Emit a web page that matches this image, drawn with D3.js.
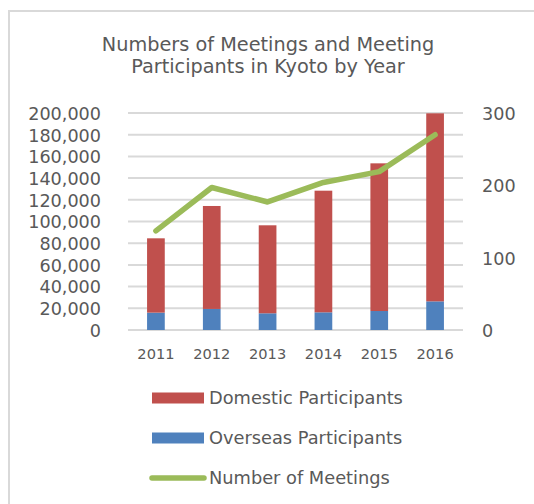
<!DOCTYPE html>
<html>
<head>
<meta charset="utf-8">
<script src="https://cdn.jsdelivr.net/npm/d3@7"></script>
<style>
  html, body { margin: 0; padding: 0; background: #fff; }
  svg { display: block; }
  text { font-family: "DejaVu Sans", Verdana, sans-serif; fill: #595959; }
</style>
</head>
<body>
<svg id="chart" width="534" height="504"></svg>
<script>
const years = ["2011", "2012", "2013", "2014", "2015", "2016"];
const overseas = [16000, 19400, 15400, 16300, 17500, 26400];
const domestic = [68500, 94900, 81100, 112100, 136100, 173300];
const meetings = [137, 197, 177, 204, 219, 270];
const leftTicks = [0, 20000, 40000, 60000, 80000, 100000, 120000, 140000, 160000, 180000, 200000];
const rightTicks = [0, 100, 200, 300];
const titleLines = ["Numbers of Meetings and Meeting", "Participants in Kyoto by Year"];
const legendItems = [
  { label: "Domestic Participants", color: "#C0504D", type: "bar" },
  { label: "Overseas Participants", color: "#4F81BD", type: "bar" },
  { label: "Number of Meetings", color: "#9BBB59", type: "line" }
];

const svg = d3.select("#chart");

// outer frame
svg.append("rect").attr("x", 9).attr("y", 11).attr("width", 620).attr("height", 620)
  .attr("fill", "none").attr("stroke", "#d9d9d9").attr("stroke-width", 2);

// title
svg.append("g").selectAll("text").data(titleLines).join("text")
  .attr("x", 268).attr("y", (d, i) => 51 + i * 22)
  .attr("text-anchor", "middle").attr("font-size", 19.3).text(d => d);

const plot = { left: 128, right: 463, top: 113, bottom: 330 };
const x = d3.scaleBand().domain(years).range([plot.left, plot.right]).padding(0);
const yL = d3.scaleLinear().domain([0, 200000]).range([plot.bottom, plot.top]);
const yR = d3.scaleLinear().domain([0, 300]).range([plot.bottom, plot.top]);

// gridlines
svg.append("g").selectAll("line").data(leftTicks).join("line")
  .attr("x1", plot.left).attr("x2", plot.right)
  .attr("y1", d => yL(d)).attr("y2", d => yL(d))
  .attr("stroke", "#d9d9d9").attr("stroke-width", 2);

// left axis
const axL = svg.append("g").attr("transform", `translate(${plot.left - 27},0)`)
  .call(d3.axisLeft(yL).tickValues(leftTicks).tickFormat(d3.format(",")).tickSize(0).tickPadding(0));
axL.select(".domain").remove();
axL.selectAll("text").attr("font-size", 17.6).attr("font-family", "DejaVu Sans").attr("fill", "#595959").attr("dy", "0.36em");

// right axis
const axR = svg.append("g").attr("transform", `translate(${plot.right + 19},0)`)
  .call(d3.axisRight(yR).tickValues(rightTicks).tickSize(0).tickPadding(0));
axR.select(".domain").remove();
axR.selectAll("text").attr("font-size", 17.6).attr("font-family", "DejaVu Sans").attr("fill", "#595959").attr("dy", "0.36em");

// x axis
const axX = svg.append("g").attr("transform", `translate(0,${plot.bottom})`)
  .call(d3.axisBottom(x).tickSize(0).tickPadding(0));
axX.select(".domain").remove();
axX.selectAll("text").attr("font-size", 14.6).attr("font-family", "DejaVu Sans").attr("fill", "#595959").attr("y", 29).attr("dy", 0);

// stacked bars
const barW = x.bandwidth() * 0.317;
const rows = years.map((yr, i) => ({ yr, overseas: overseas[i], domestic: domestic[i] }));
const stack = d3.stack().keys(["overseas", "domestic"])(rows);
const colors = { overseas: "#4F81BD", domestic: "#C0504D" };
svg.append("g").selectAll("g").data(stack).join("g")
  .attr("fill", d => colors[d.key])
  .selectAll("rect").data(d => d).join("rect")
  .attr("x", d => x(d.data.yr) + (x.bandwidth() - barW) / 2)
  .attr("width", barW)
  .attr("y", d => yL(d[1]))
  .attr("height", d => yL(d[0]) - yL(d[1]));

// line
const line = d3.line().x((d, i) => x(years[i]) + x.bandwidth() / 2).y(d => yR(d));
svg.append("path").datum(meetings).attr("d", line)
  .attr("fill", "none").attr("stroke", "#9BBB59").attr("stroke-width", 5.5)
  .attr("stroke-linecap", "round").attr("stroke-linejoin", "round");

// legend
const lg = svg.append("g").selectAll("g").data(legendItems).join("g")
  .attr("transform", (d, i) => `translate(152,${398 + i * 40})`);
lg.filter(d => d.type === "bar").append("rect")
  .attr("x", 0).attr("y", -5.5).attr("width", 52).attr("height", 11).attr("fill", d => d.color);
lg.filter(d => d.type === "line").append("line")
  .attr("x1", 0).attr("x2", 52).attr("y1", 0).attr("y2", 0)
  .attr("stroke", d => d.color).attr("stroke-width", 5.5).attr("stroke-linecap", "round");
lg.append("text").attr("x", 57).attr("y", 0).attr("dy", "0.36em")
  .attr("font-size", 17.8).text(d => d.label);
</script>
</body>
</html>
